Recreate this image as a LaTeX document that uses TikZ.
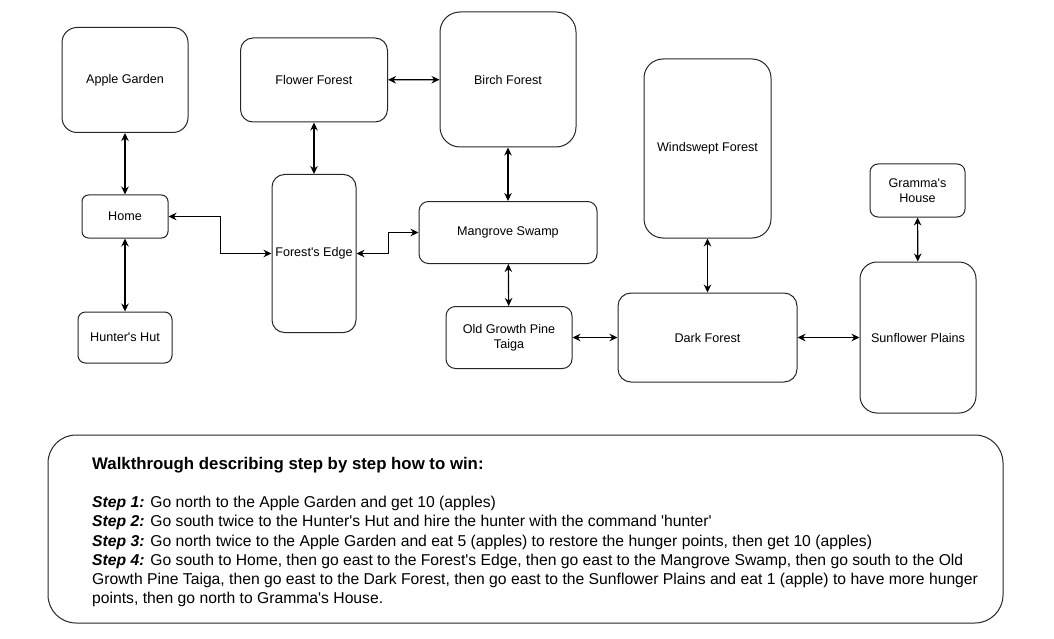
\documentclass[tikz,border=0pt]{standalone}
\usepackage{fontspec}
\setmainfont{Liberation Sans}
\usetikzlibrary{arrows.meta}
\newcommand{\apos}{\textquotesingle}

\begin{document}
\begin{tikzpicture}[x=1pt,y=-1pt,
	room/.style={draw=black!85,line width=1pt,rounded corners=#1,align=center,inner sep=0pt,font=\fontsize{12.6}{14.5}\selectfont},
	room/.default=8pt,
	link/.style={{Stealth[length=8pt,width=7.5pt]}-{Stealth[length=8pt,width=7.5pt]},line width=1.2pt}]
	\useasboundingbox (0,0) rectangle (1054,639);
	\node[room=15pt,minimum width=126pt,minimum height=105pt] (apple) at (125,80) {Apple Garden};
	\node[room=6.5pt,minimum width=86pt,minimum height=43pt] (home) at (125,216.5) {Home};
	\node[room=7.5pt,minimum width=94pt,minimum height=51pt] (hut) at (125,337.5) {Hunter\apos s Hut};
	\node[room=12.5pt,minimum width=147pt,minimum height=84pt] (flower) at (314,80) {Flower Forest};
	\node[room=20pt,minimum width=136pt,minimum height=135pt] (birch) at (508,79.5) {Birch Forest};
	\node[room=12.5pt,minimum width=84pt,minimum height=158pt] (edge) at (314,253.5) {Forest\apos s Edge};
	\node[room=9.5pt,minimum width=178pt,minimum height=62pt] (mangrove) at (508,232.5) {Mangrove Swamp};
	\node[room=9.5pt,minimum width=126pt,minimum height=62pt] (taiga) at (509,337.5) {Old Growth Pine\\Taiga};
	\node[room=19pt,minimum width=127pt,minimum height=179pt] (windswept) at (707.5,148.5) {Windswept Forest};
	\node[room=13pt,minimum width=179pt,minimum height=89pt] (dark) at (707.5,337.5) {Dark Forest};
	\node[room=8pt,minimum width=95pt,minimum height=53pt] (gramma) at (917.5,190.5) {Gramma\apos s\\House};
	\node[room=17pt,minimum width=116pt,minimum height=151pt] (sunflower) at (918,337.5) {Sunflower Plains};
	\node[room=28pt,minimum width=955pt,minimum height=188pt] (walk) at (525.5,529) {};
	\node[anchor=north west,inner sep=0pt,align=left,font=\fontsize{15.7}{19.2}\selectfont] (walktext) at (92,457) {{\fontsize{16.8}{19.2}\selectfont\textbf{Walkthrough describing step by step how to win:}}\\[19.2pt]
		\textbf{\textit{Step 1:}} Go north to the Apple Garden and get 10 (apples)\\
		\textbf{\textit{Step 2:}} Go south twice to the Hunter\apos s Hut and hire the hunter with the command \apos hunter\apos\\
		\textbf{\textit{Step 3:}} Go north twice to the Apple Garden and eat 5 (apples) to restore the hunger points, then get 10 (apples)\\
		\textbf{\textit{Step 4:}} Go south to Home, then go east to the Forest\apos s Edge, then go east to the Mangrove Swamp, then go south to the Old\\
		Growth Pine Taiga, then go east to the Dark Forest, then go east to the Sunflower Plains and eat 1 (apple) to have more hunger\\
		points, then go north to Gramma\apos s House.};
	\draw[link] (apple) -- (home);
	\draw[link] (home) -- (hut);
	\draw[link] (home.east) -- ++(52,0) |- (edge.west);
	\draw[link] (flower) -- (edge);
	\draw[link] (flower) -- (birch);
	\draw[link] (edge.east) -- ++(32,0) |- (mangrove.west);
	\draw[link] (birch) -- (mangrove);
	\draw[link] (mangrove) -- (taiga);
	\draw[link] (taiga) -- (dark);
	\draw[link] (windswept) -- (dark);
	\draw[link] (dark) -- (sunflower);
	\draw[link] (gramma) -- (sunflower);
\end{tikzpicture}
\end{document}
